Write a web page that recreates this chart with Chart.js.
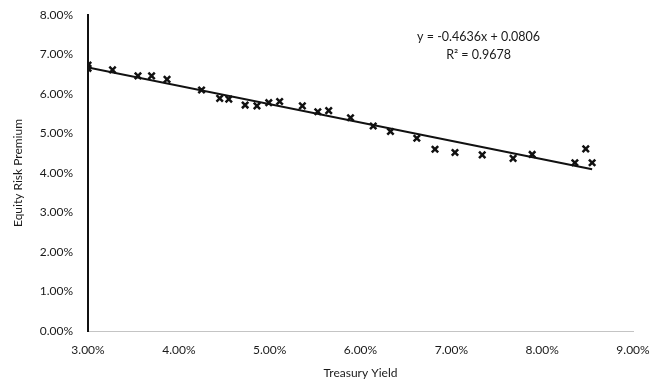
<!DOCTYPE html>
<html>
<head>
<meta charset="utf-8">
<script src="https://cdn.jsdelivr.net/npm/chart.js@4.4.1/dist/chart.umd.min.js"></script>
<style>
  html, body { margin: 0; padding: 0; background: #fff; }
  #wrap { width: 658px; height: 385px; }
</style>
</head>
<body>
<div id="wrap"><canvas id="chart" width="658" height="385"></canvas></div>
<script>
// Treasury yield (%) vs equity risk premium (%)
const treasuryYield = [3.00, 3.00, 3.27, 3.55, 3.70, 3.87, 4.25, 4.45, 4.55, 4.73, 4.86, 4.99, 5.11,
    5.36, 5.53, 5.65, 5.89, 6.14, 6.33, 6.62, 6.82, 7.04, 7.34, 7.68, 7.89, 8.36, 8.48, 8.55];
const riskPremium = [6.73, 6.65, 6.61, 6.46, 6.46, 6.37, 6.10, 5.89, 5.87, 5.72, 5.70, 5.78, 5.81,
    5.70, 5.55, 5.58, 5.40, 5.19, 5.05, 4.88, 4.60, 4.52, 4.46, 4.37, 4.47, 4.26, 4.61, 4.26];

// Excel linear trendline (fractions)
const trendSlope = -0.4636;
const trendIntercept = 0.0806;
const trendR2 = 0.9678;

const xTicks = [3, 4, 5, 6, 7, 8, 9];
const yTicks = [0, 1, 2, 3, 4, 5, 6, 7, 8];

const points = treasuryYield.map((x, i) => ({ x: x, y: riskPremium[i] }));
const xMin = Math.min(...treasuryYield);
const xMax = Math.max(...treasuryYield);
const trendAt = (xPct) => (trendSlope * xPct / 100 + trendIntercept) * 100;
const trendLine = [
    { x: xMin, y: trendAt(xMin) },
    { x: xMax, y: trendAt(xMax) }
];

const FONT = 'Lato, "Open Sans", sans-serif';
const TEXT = '#1a1a1a';

const equationLabel = {
    id: 'equationLabel',
    afterDatasetsDraw(chart) {
        const { ctx, scales } = chart;
        const cx = scales.x.getPixelForValue(7.3);
        ctx.save();
        ctx.fillStyle = TEXT;
        ctx.font = '12.5px ' + FONT;
        ctx.textAlign = 'center';
        ctx.textBaseline = 'middle';
        const sign = trendIntercept >= 0 ? ' + ' : ' - ';
        ctx.fillText('y = ' + trendSlope.toFixed(4) + 'x' + sign + Math.abs(trendIntercept).toFixed(4),
            cx, scales.y.getPixelForValue(7.44));
        ctx.fillText('R\u00b2 = ' + trendR2.toFixed(4), cx, scales.y.getPixelForValue(6.98));
        ctx.restore();
    }
};

new Chart(document.getElementById('chart'), {
    type: 'scatter',
    data: {
        datasets: [
            {
                label: 'Equity Risk Premium',
                data: points,
                pointStyle: 'crossRot',
                pointRadius: 4.5,
                pointBorderWidth: 2.5,
                borderColor: '#111',
                backgroundColor: '#111',
                order: 2
            },
            {
                label: 'Linear trend',
                data: trendLine,
                showLine: true,
                borderColor: '#111',
                borderWidth: 2,
                pointRadius: 0,
                fill: false,
                order: 1
            }
        ]
    },
    options: {
        responsive: false,
        animation: false,
        layout: { padding: { top: 15, right: 25, left: 0, bottom: 0 } },
        plugins: {
            legend: { display: false },
            tooltip: { enabled: false }
        },
        scales: {
            x: {
                type: 'linear',
                min: 3,
                max: 9,
                afterBuildTicks: (s) => { s.ticks = xTicks.map(v => ({ value: v })); },
                afterFit: (s) => { s.height = 54; s.paddingLeft = 0; s.paddingRight = 0; },
                grid: { display: false, drawTicks: false },
                border: { display: true, color: '#c4c4c4', width: 1 },
                ticks: {
                    color: TEXT,
                    padding: 12,
                    font: { family: FONT, size: 12 },
                    callback: (v) => v.toFixed(2) + '%'
                },
                title: {
                    display: true,
                    text: 'Treasury Yield',
                    color: TEXT,
                    font: { family: FONT, size: 12 },
                    padding: { top: 6, bottom: 5 }
                }
            },
            y: {
                min: 0,
                max: 8,
                afterBuildTicks: (s) => { s.ticks = yTicks.map(v => ({ value: v })); },
                afterFit: (s) => { s.width = 88; s.paddingTop = 0; s.paddingBottom = 0; },
                grid: { display: false, drawTicks: false },
                border: { display: true, color: '#111', width: 2 },
                ticks: {
                    color: TEXT,
                    padding: 15,
                    font: { family: FONT, size: 12 },
                    callback: (v) => v.toFixed(2) + '%'
                },
                title: {
                    display: true,
                    text: 'Equity Risk Premium',
                    color: TEXT,
                    font: { family: FONT, size: 12 },
                    padding: { top: 11, bottom: 0 }
                }
            }
        }
    },
    plugins: [equationLabel]
});
</script>
</body>
</html>
